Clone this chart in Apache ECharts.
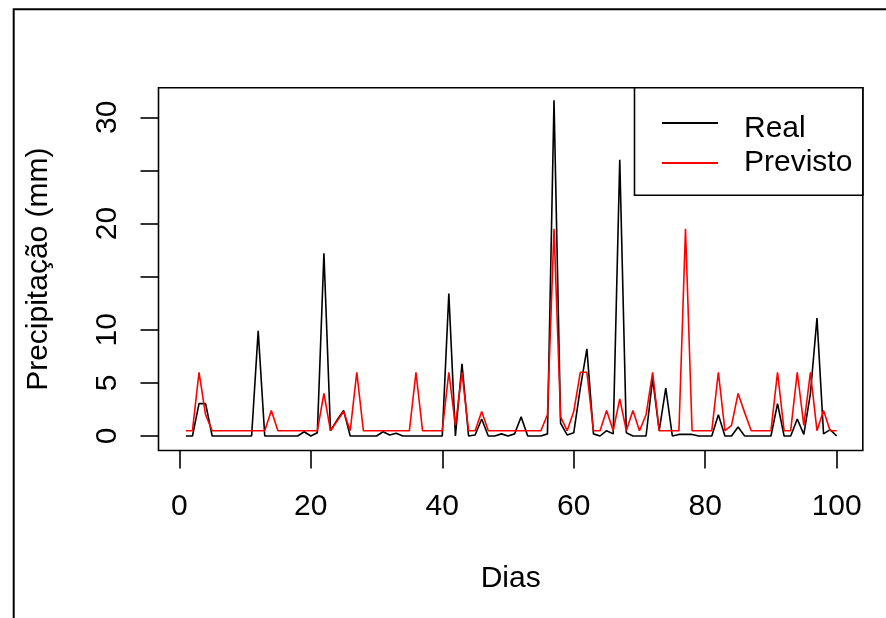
<!DOCTYPE html>
<html>
<head>
<meta charset="utf-8">
<script src="https://cdn.jsdelivr.net/npm/echarts@6/dist/echarts.min.js"></script>
<style>
html,body{margin:0;padding:0;background:#fff;}
#chart{width:886px;height:618px;}
</style>
</head>
<body>
<div id="chart"></div>
<script>
// Daily precipitation (mm), days 1..100
const real = [
  0, 0, 3.05, 3.05, 0, 0, 0, 0, 0, 0,
  0, 9.9, 0, 0, 0, 0, 0, 0, 0.4, 0,
  0.3, 17.2, 0.5, 1.5, 2.4, 0, 0, 0, 0, 0,
  0.4, 0.1, 0.25, 0, 0, 0, 0, 0, 0, 0,
  13.4, 0, 6.8, 0, 0.1, 1.6, 0, 0, 0.2, 0,
  0.2, 1.8, 0, 0, 0, 0.2, 31.6, 1.2, 0.1, 0.3,
  4.5, 8.2, 0.2, 0, 0.5, 0.2, 26.0, 0.3, 0, 0,
  0, 5.4, 0.5, 4.5, 0, 0.15, 0.15, 0.15, 0, 0,
  0, 2.0, 0, 0, 0.85, 0, 0, 0, 0, 0,
  3.05, 0, 0, 1.6, 0.15, 4.0, 11.1, 0.2, 0.6, 0
];
const previsto = [
  0.5, 0.5, 6.0, 2.0, 0.5, 0.5, 0.5, 0.5, 0.5, 0.5,
  0.5, 0.5, 0.5, 2.4, 0.5, 0.5, 0.5, 0.5, 0.5, 0.5,
  0.5, 4.0, 0.5, 1.4, 2.3, 0.5, 6.0, 0.5, 0.5, 0.5,
  0.5, 0.5, 0.5, 0.5, 0.5, 6.0, 0.5, 0.5, 0.5, 0.5,
  6.0, 1.0, 6.0, 0.5, 0.5, 2.3, 0.5, 0.5, 0.5, 0.5,
  0.5, 0.5, 0.5, 0.5, 0.5, 2.0, 19.5, 1.8, 0.5, 2.3,
  6.0, 6.0, 0.5, 0.5, 2.4, 0.5, 3.5, 0.5, 2.4, 0.5,
  2.0, 6.0, 0.5, 0.5, 0.5, 0.5, 19.5, 0.5, 0.5, 0.5,
  0.5, 6.0, 0.5, 1.0, 4.0, 2.2, 0.5, 0.5, 0.5, 0.5,
  6.0, 0.5, 0.5, 6.0, 1.0, 6.0, 0.5, 2.4, 0.5, 0.5
];
const seriesNames = ['Real', 'Previsto'];
const xTicks = [0, 20, 40, 60, 80, 100];
const yTickLabels = [0, 5, 10, 20, 30];
const xTitle = 'Dias';
const yTitle = 'Precipitação (mm)';

const FONT = '"Liberation Sans", Arial, Helvetica, sans-serif';
const toPairs = arr => arr.map((v, i) => [i + 1, v]);

const chart = echarts.init(document.getElementById('chart'), null, {renderer: 'canvas'});
chart.setOption({
  animation: false,
  backgroundColor: '#fff',
  textStyle: {fontFamily: FONT, color: '#000'},
  grid: [
    {left: 179.3, right: 49.3, top: 117.3, bottom: 182, show: false},
    {left: 158.5, right: 23.2, top: 87.8, bottom: 167.5, show: true,
     borderColor: '#000', borderWidth: 1.6, backgroundColor: 'transparent'}
  ],
  xAxis: [
    {type: 'value', gridIndex: 0, min: xTicks[0], max: xTicks[xTicks.length - 1],
     interval: xTicks[1] - xTicks[0], offset: 14.5, position: 'bottom',
     axisLine: {show: false, onZero: false},
     axisTick: {show: true, inside: false, length: 18, lineStyle: {color: '#000', width: 1.6}},
     axisLabel: {show: true, margin: 41, fontSize: 30, color: '#000', fontFamily: FONT},
     splitLine: {show: false}},
    {type: 'value', gridIndex: 1, min: 0, max: 1,
     axisLine: {show: false, onZero: false}, axisTick: {show: false}, axisLabel: {show: false}, splitLine: {show: false},
     name: xTitle, nameLocation: 'middle', nameGap: 113,
     nameTextStyle: {fontSize: 30, color: '#000', fontFamily: FONT}}
  ],
  yAxis: [
    {type: 'value', gridIndex: 0, min: 0, max: 30, interval: 5, offset: 20.8, position: 'left',
     axisLine: {show: false, onZero: false},
     axisTick: {show: true, inside: false, length: 18, lineStyle: {color: '#000', width: 1.6}},
     axisLabel: {show: true, rotate: 90, margin: 35.5, fontSize: 30, color: '#000', fontFamily: FONT,
       formatter: v => (yTickLabels.indexOf(v) >= 0 ? String(v) : '')},
     splitLine: {show: false}},
    {type: 'value', gridIndex: 1, min: 0, max: 1,
     axisLine: {show: false, onZero: false}, axisTick: {show: false}, axisLabel: {show: false}, splitLine: {show: false},
     name: yTitle, nameLocation: 'middle', nameGap: 105,
     nameTextStyle: {fontSize: 30, color: '#000', fontFamily: FONT}}
  ],
  legend: {
    data: [
      {name: seriesNames[0], icon: 'path://M0,0H56V2H0Z M0,13.9L0.01,14'},
      {name: seriesNames[1], icon: 'path://M0,6H56V8H0Z M0,0L0.01,0 M0,13.9L0.01,14'}
    ],
    orient: 'vertical',
    left: 662, top: 113.9,
    padding: 0,
    itemGap: 4,
    itemWidth: 56, itemHeight: 14,
    selectedMode: false,
    textStyle: {fontSize: 30, color: '#000', fontFamily: FONT, padding: [0, 0, 0, 21]}
  },
  graphic: [
    {type: 'rect', z: 0, silent: true,
     shape: {x: 13.7, y: 9.3, width: 1000, height: 1000},
     style: {fill: 'none', stroke: '#000', lineWidth: 2}},
    {type: 'rect', z: 1, silent: true,
     shape: {x: 634.5, y: 87.8, width: 862.8 - 634.5, height: 195.2 - 87.8},
     style: {fill: '#fff', stroke: '#000', lineWidth: 1.6}}
  ],
  series: [
    {name: seriesNames[0], type: 'line', xAxisIndex: 0, yAxisIndex: 0, data: toPairs(real),
     showSymbol: false, symbol: 'none', clip: false, z: 3,
     lineStyle: {color: '#000000', width: 1.6}, itemStyle: {color: '#000000'}},
    {name: seriesNames[1], type: 'line', xAxisIndex: 0, yAxisIndex: 0, data: toPairs(previsto),
     showSymbol: false, symbol: 'none', clip: false, z: 4,
     lineStyle: {color: '#ff0000', width: 1.6}, itemStyle: {color: '#ff0000'}}
  ]
});
</script>
</body>
</html>
